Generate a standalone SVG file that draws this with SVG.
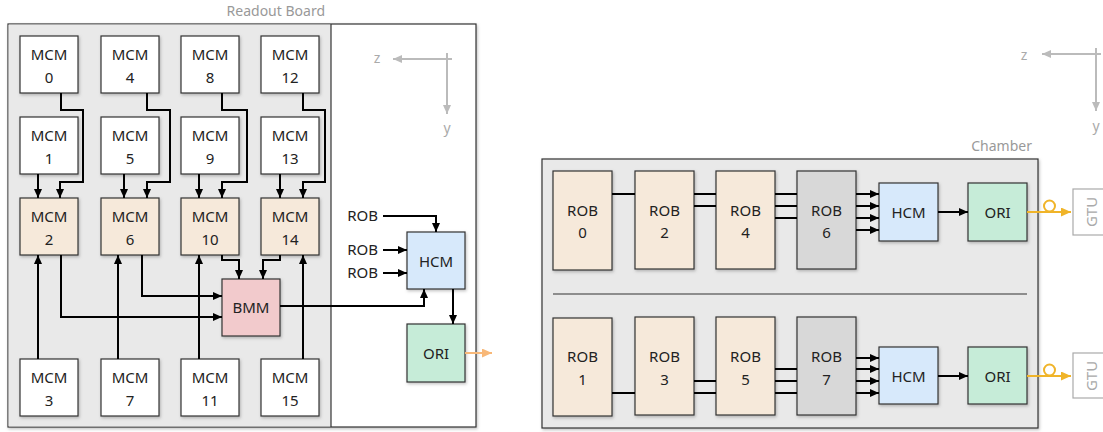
<svg xmlns="http://www.w3.org/2000/svg" width="1103" height="432" viewBox="0 0 1103 432">
<style>
text{font-family:"Noto Sans","Open Sans","DejaVu Sans",sans-serif;font-size:15px;fill:#222;text-anchor:middle}
.box{stroke:#333;stroke-width:1.2;filter:url(#sh)}
.w{fill:#ffffff}.b{fill:#f6e9da}.bmm{fill:#f2cacc}.hcm{fill:#d7e9fb}.ori{fill:#c6ecd8}.g{fill:#d8d8d8}
.title{fill:#999;font-size:14px;text-anchor:end}
.ax{stroke:#bbb;stroke-width:2;fill:none}
.axt{fill:#aaa;font-size:14px}
.c{stroke:#000;stroke-width:2;fill:none}
.ca{stroke:#000;stroke-width:2;fill:none;marker-end:url(#ah)}
.gtu{fill:#fff;stroke:#aaa;stroke-width:1.2}
.gtut{fill:#aaa;font-size:15px}
</style>
<defs>
<filter id="sh" x="-10%" y="-10%" width="130%" height="130%">
<feDropShadow dx="1" dy="1.5" stdDeviation="1.5" flood-color="#000" flood-opacity="0.25"/>
</filter>
<marker id="ah" markerUnits="userSpaceOnUse" markerWidth="9" markerHeight="8" refX="9" refY="4" orient="auto">
<path d="M0,0 L9,4 L0,8 z" fill="#000"/>
</marker>
<marker id="aha" markerUnits="userSpaceOnUse" markerWidth="9" markerHeight="8" refX="9" refY="4" orient="auto">
<path d="M0,0 L9,4 L0,8 z" fill="#bbb"/>
</marker>
<marker id="aho" markerUnits="userSpaceOnUse" markerWidth="10" markerHeight="9" refX="10" refY="4.5" orient="auto">
<path d="M0,0 L10,4.5 L0,9 z" fill="#f8b878"/>
</marker>
<marker id="ahy" markerUnits="userSpaceOnUse" markerWidth="10" markerHeight="9" refX="10" refY="4.5" orient="auto">
<path d="M0,0 L10,4.5 L0,9 z" fill="#f0b429"/>
</marker>
</defs>

<!-- Readout board -->
<g id="readout-board">
<rect x="8" y="24" width="468" height="403" fill="#fff" stroke="#333" stroke-width="1.2" filter="url(#sh)"/>
<rect x="8.6" y="24.6" width="322.4" height="401.8" fill="#e9e9e9"/>
<line x1="331" y1="24" x2="331" y2="427" stroke="#333" stroke-width="1.2"/>
<text class="title" x="325" y="16">Readout Board</text>
</g>

<g id="axes-left">
<path class="ax" d="M452,59 H393" marker-end="url(#aha)"/>
<path class="ax" d="M447,53 V114" marker-end="url(#aha)"/>
<text class="axt" x="377" y="63">z</text>
<text class="axt" x="447" y="133">y</text>
</g>

<g id="mcm0"><rect class="box w" x="20" y="36" width="58" height="57"/><text x="49" y="60">MCM</text><text x="49" y="83">0</text></g>
<g id="mcm4"><rect class="box w" x="101" y="36" width="58" height="57"/><text x="130" y="60">MCM</text><text x="130" y="83">4</text></g>
<g id="mcm8"><rect class="box w" x="181" y="36" width="58" height="57"/><text x="210" y="60">MCM</text><text x="210" y="83">8</text></g>
<g id="mcm12"><rect class="box w" x="261" y="36" width="58" height="57"/><text x="290" y="60">MCM</text><text x="290" y="83">12</text></g>

<g id="mcm1"><rect class="box w" x="20" y="117" width="58" height="57"/><text x="49" y="141">MCM</text><text x="49" y="164">1</text></g>
<g id="mcm5"><rect class="box w" x="101" y="117" width="58" height="57"/><text x="130" y="141">MCM</text><text x="130" y="164">5</text></g>
<g id="mcm9"><rect class="box w" x="181" y="117" width="58" height="57"/><text x="210" y="141">MCM</text><text x="210" y="164">9</text></g>
<g id="mcm13"><rect class="box w" x="261" y="117" width="58" height="57"/><text x="290" y="141">MCM</text><text x="290" y="164">13</text></g>

<g id="mcm2"><rect class="box b" x="20" y="198" width="58" height="57"/><text x="49" y="222">MCM</text><text x="49" y="245">2</text></g>
<g id="mcm6"><rect class="box b" x="101" y="198" width="58" height="57"/><text x="130" y="222">MCM</text><text x="130" y="245">6</text></g>
<g id="mcm10"><rect class="box b" x="181" y="198" width="58" height="57"/><text x="210" y="222">MCM</text><text x="210" y="245">10</text></g>
<g id="mcm14"><rect class="box b" x="261" y="198" width="58" height="57"/><text x="290" y="222">MCM</text><text x="290" y="245">14</text></g>

<g id="mcm3"><rect class="box w" x="20" y="359" width="58" height="57"/><text x="49" y="383">MCM</text><text x="49" y="406">3</text></g>
<g id="mcm7"><rect class="box w" x="101" y="359" width="58" height="57"/><text x="130" y="383">MCM</text><text x="130" y="406">7</text></g>
<g id="mcm11"><rect class="box w" x="181" y="359" width="58" height="57"/><text x="210" y="383">MCM</text><text x="210" y="406">11</text></g>
<g id="mcm15"><rect class="box w" x="261" y="359" width="58" height="57"/><text x="290" y="383">MCM</text><text x="290" y="406">15</text></g>

<g id="bmm"><rect class="box bmm" x="222" y="279" width="58" height="57"/><text x="251" y="313">BMM</text></g>
<g id="hcm-rb"><rect class="box hcm" x="407" y="232" width="58" height="57"/><text x="436" y="267">HCM</text></g>
<g id="ori-rb"><rect class="box ori" x="407" y="324" width="58" height="58"/><text x="436" y="359">ORI</text></g>

<g id="rob-labels">
<text x="378" y="221" style="text-anchor:end">ROB</text>
<text x="378" y="255" style="text-anchor:end">ROB</text>
<text x="378" y="278" style="text-anchor:end">ROB</text>
</g>

<!-- Chamber -->
<g id="chamber">
<rect x="542" y="159" width="496" height="269" fill="#e9e9e9" stroke="#333" stroke-width="1.2" filter="url(#sh)"/>
<line x1="553" y1="294" x2="1027" y2="294" stroke="#333" stroke-width="1.2"/>
<text class="title" x="1032" y="151">Chamber</text>
</g>

<g id="axes-right">
<path class="ax" d="M1101,54 H1042" marker-end="url(#aha)"/>
<path class="ax" d="M1096,48 V111" marker-end="url(#aha)"/>
<text class="axt" x="1024" y="60">z</text>
<text class="axt" x="1096" y="131">y</text>
</g>

<g id="rob0"><rect class="box b" x="553" y="171" width="59" height="99"/><text x="582.5" y="216">ROB</text><text x="582.5" y="238">0</text></g>
<g id="rob2"><rect class="box b" x="635" y="171" width="59" height="98"/><text x="664.5" y="216">ROB</text><text x="664.5" y="238">2</text></g>
<g id="rob4"><rect class="box b" x="716" y="171" width="59" height="98"/><text x="745.5" y="216">ROB</text><text x="745.5" y="238">4</text></g>
<g id="rob6"><rect class="box g" x="797" y="171" width="59" height="98"/><text x="826.5" y="216">ROB</text><text x="826.5" y="238">6</text></g>
<g id="hcm-top"><rect class="box hcm" x="879" y="183" width="59" height="58"/><text x="908.5" y="218">HCM</text></g>
<g id="ori-top"><rect class="box ori" x="968" y="183" width="59" height="58"/><text x="997.5" y="218">ORI</text></g>
<g id="gtu-top"><rect class="gtu" x="1073" y="189" width="40" height="46"/><text class="gtut" transform="translate(1096.5,212) rotate(-90)" x="0" y="0">GTU</text></g>

<g id="rob1"><rect class="box b" x="553" y="318" width="59" height="98"/><text x="582.5" y="362">ROB</text><text x="582.5" y="385">1</text></g>
<g id="rob3"><rect class="box b" x="635" y="317" width="59" height="98"/><text x="664.5" y="362">ROB</text><text x="664.5" y="385">3</text></g>
<g id="rob5"><rect class="box b" x="716" y="317" width="59" height="98"/><text x="745.5" y="362">ROB</text><text x="745.5" y="385">5</text></g>
<g id="rob7"><rect class="box g" x="797" y="317" width="59" height="98"/><text x="826.5" y="362">ROB</text><text x="826.5" y="385">7</text></g>
<g id="hcm-bot"><rect class="box hcm" x="879" y="347" width="59" height="57"/><text x="908.5" y="382">HCM</text></g>
<g id="ori-bot"><rect class="box ori" x="968" y="347" width="59" height="57"/><text x="997.5" y="382">ORI</text></g>
<g id="gtu-bot"><rect class="gtu" x="1073" y="353" width="40" height="45"/><text class="gtut" transform="translate(1096.5,376) rotate(-90)" x="0" y="0">GTU</text></g>

<g id="connectors">
<!-- column 1 -->
<path class="ca" d="M38,174 V198"/>
<path class="ca" d="M61,93 V110 H83 V182 H60 V198"/>
<path class="ca" d="M38,359 V255"/>
<path class="ca" d="M61,255 V317 H222"/>
<!-- column 2 -->
<path class="ca" d="M124,174 V198"/>
<path class="ca" d="M147,93 V110 H170 V182 H147 V198"/>
<path class="ca" d="M118,359 V255"/>
<path class="ca" d="M142,255 V296 H222"/>
<!-- column 3 -->
<path class="ca" d="M199,174 V198"/>
<path class="ca" d="M222,93 V110 H247 V182 H222 V198"/>
<path class="ca" d="M199,359 V255"/>
<path class="ca" d="M222,255 V260 H239 V279"/>
<!-- column 4 -->
<path class="ca" d="M280,174 V198"/>
<path class="ca" d="M303,93 V110 H325 V182 H303 V198"/>
<path class="ca" d="M303,359 V255"/>
<path class="ca" d="M280,255 V260 H263 V279"/>
<!-- BMM / HCM / ORI -->
<path class="ca" d="M280,306 H424 V289"/>
<path class="ca" d="M383,216 H436 V232"/>
<path class="ca" d="M383,250 H407"/>
<path class="ca" d="M383,273 H407"/>
<path class="ca" d="M453,289 V324"/>
<path d="M465,353 H492" stroke="#f8b878" stroke-width="2" fill="none" marker-end="url(#aho)"/>

<!-- chamber top -->
<path class="c" d="M612,194 H635"/>
<path class="c" d="M694,194 H716 M694,206 H716"/>
<path class="c" d="M775,194 H797 M775,206 H797 M775,218 H797"/>
<path class="ca" d="M856,194 H879"/>
<path class="ca" d="M856,206 H879"/>
<path class="ca" d="M856,218 H879"/>
<path class="ca" d="M856,230 H879"/>
<path class="ca" d="M938,212 H968"/>
<path d="M1027,212 H1071" stroke="#f0b429" stroke-width="2" fill="none" marker-end="url(#ahy)"/>
<circle cx="1049.5" cy="206" r="5.5" fill="none" stroke="#f0b429" stroke-width="2"/>

<!-- chamber bottom -->
<path class="c" d="M612,393 H635"/>
<path class="c" d="M694,381 H716 M694,393 H716"/>
<path class="c" d="M775,369 H797 M775,381 H797 M775,393 H797"/>
<path class="ca" d="M856,358 H879"/>
<path class="ca" d="M856,369 H879"/>
<path class="ca" d="M856,381 H879"/>
<path class="ca" d="M856,393 H879"/>
<path class="ca" d="M938,376 H968"/>
<path d="M1027,376 H1071" stroke="#f0b429" stroke-width="2" fill="none" marker-end="url(#ahy)"/>
<circle cx="1049.5" cy="370" r="5.5" fill="none" stroke="#f0b429" stroke-width="2"/>
</g>
</svg>
